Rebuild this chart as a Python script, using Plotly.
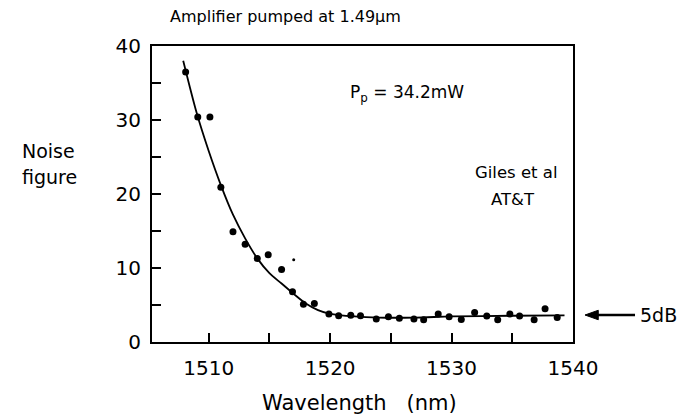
import plotly.graph_objects as go

# Measured data points (wavelength nm, noise figure)
wavelength = [1508.1, 1509.1, 1510.1, 1511.0, 1512.0, 1513.0, 1514.0, 1514.9, 1516.0,
              1516.9, 1517.8, 1518.7, 1519.9, 1520.7, 1521.7, 1522.5, 1523.8, 1524.8,
              1525.7, 1526.9, 1527.7, 1528.9, 1529.8, 1530.8, 1531.9, 1532.9, 1533.8,
              1534.8, 1535.6, 1536.8, 1537.7, 1538.7]
noise = [36.5, 30.4, 30.4, 20.9, 14.9, 13.2, 11.3, 11.8, 9.8,
         6.8, 5.1, 5.2, 3.8, 3.55, 3.6, 3.55, 3.1, 3.4,
         3.2, 3.1, 3.0, 3.8, 3.4, 3.05, 4.0, 3.5, 3.0,
         3.8, 3.5, 3.0, 4.5, 3.3]

# small stray dot
speck_x = [1517.0]
speck_y = [11.1]

# Fitted curve
curve_x = [1507.9, 1509.0, 1510.0, 1511.0, 1512.0, 1513.0, 1514.0, 1515.0, 1516.0,
           1517.0, 1518.0, 1519.0, 1520.0, 1522.0, 1524.0, 1527.0, 1530.0, 1535.0, 1539.3]
curve_y = [38.0, 31.0, 25.8, 21.2, 17.2, 14.0, 11.3, 9.3, 7.9,
           6.5, 5.2, 4.3, 3.8, 3.45, 3.3, 3.3, 3.45, 3.55, 3.6]

x_ticks = [1510, 1520, 1530, 1540]
y_ticks = [0, 10, 20, 30, 40]

FONT = "DejaVu Sans, Verdana, Arial, sans-serif"

fig = go.Figure()
fig.add_trace(go.Scatter(x=curve_x, y=curve_y, mode="lines",
                         line=dict(color="black", width=1.8, shape="spline", smoothing=0.8),
                         hoverinfo="skip", showlegend=False))
fig.add_trace(go.Scatter(x=wavelength, y=noise, mode="markers",
                         marker=dict(color="black", size=7), showlegend=False))
fig.add_trace(go.Scatter(x=speck_x, y=speck_y, mode="markers",
                         marker=dict(color="black", size=3), showlegend=False))

axis_common = dict(showline=True, linecolor="black", linewidth=2, mirror=True,
                   ticks="inside", ticklen=9, tickwidth=1.5, tickcolor="black",
                   showgrid=False, zeroline=False,
                   tickfont=dict(family=FONT, size=20, color="black"))

fig.update_xaxes(range=[1505.33, 1540], tickmode="array", tickvals=x_ticks,
                 ticktext=[str(v) for v in x_ticks], ticklabelstandoff=7,
                 minor=dict(ticks="inside", ticklen=9, tickwidth=1.5, tickcolor="black",
                            dtick=5, tick0=1510, showgrid=False),
                 **axis_common)
fig.update_yaxes(range=[0, 40], tickmode="array", tickvals=y_ticks,
                 ticktext=[str(v) for v in y_ticks], ticklabelstandoff=5,
                 minor=dict(ticks="inside", ticklen=9, tickwidth=1.5, tickcolor="black",
                            dtick=5, tick0=0, showgrid=False),
                 **axis_common)

def ann(text, x, y, size=17, xanchor="center", **kw):
    return dict(text=text, x=x, y=y, xref="paper", yref="paper", showarrow=False,
                xanchor=xanchor, yanchor="middle",
                font=dict(family=FONT, size=size, color="black"), **kw)

annotations = [
    ann("Amplifier pumped at 1.49\u03bcm", 0.318, 1.098, size=16),
    ann("Noise", -0.245, 0.645, size=19),
    ann("figure", -0.243, 0.557, size=19),
    ann("P<sub>p</sub> = 34.2mW", 0.4656, 0.838, xanchor="left", size=17),
    ann("Giles et al", 0.865, 0.571, size=16.5),
    ann("AT&T", 0.857, 0.483, size=16.5),
    ann("Wavelength\u00a0\u00a0\u00a0(nm)", 0.494, -0.206, size=21),
    ann("5dB", 1.155, 0.091, xanchor="left", size=19),
]

# Arrow pointing at the 5dB level (outside the plot, in paper coordinates)
arrow_y = 0.0912
shapes = [
    dict(type="line", xref="paper", yref="paper", x0=1.05, x1=1.1473,
         y0=arrow_y, y1=arrow_y, line=dict(color="black", width=2.5)),
    dict(type="path", xref="paper", yref="paper",
         path=f"M 1.0285 {arrow_y} L 1.060 {arrow_y + 0.016} L 1.060 {arrow_y - 0.016} Z",
         fillcolor="black", line=dict(color="black", width=1)),
]

fig.update_layout(width=692, height=416,
                  margin=dict(l=152, r=119, t=46, b=74),
                  paper_bgcolor="white", plot_bgcolor="white",
                  annotations=annotations, shapes=shapes,
                  font=dict(family=FONT, color="black"))

fig.write_html("out.html")
